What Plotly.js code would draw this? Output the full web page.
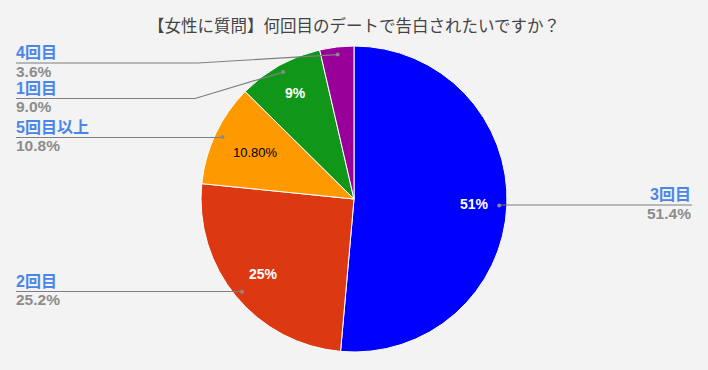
<!DOCTYPE html>
<html>
<head>
<meta charset="utf-8">
<script src="https://cdn.plot.ly/plotly-3.0.1.min.js"></script>
<style>html,body{margin:0;padding:0;background:#f3f3f3;}#chart{width:708px;height:370px;}</style>
</head>
<body>
<div id="chart"></div>
<script>
// ---- data ----
const categories = ['3回目', '2回目', '5回目以上', '1回目', '4回目'];
const values = [51.4, 25.2, 10.8, 9.0, 3.6];
const insideLabels = ['51%', '25%', '10.80%', '9%', ''];
const outsideLabels = ['51.4%', '25.2%', '10.8%', '9.0%', '3.6%'];
const titleText = '【女性に質問】何回目のデートで告白されたいですか？';

// ---- styles / layout ----
const colors = ['#0000ff', '#dc3912', '#ff9900', '#109618', '#990099'];
const insideColors = ['#ffffff', '#ffffff', '#000000', '#ffffff', '#ffffff'];
const insideBold = [true, true, false, true, true];
const insideR = [0.79, 0.77, 0.71, 0.79, 0.78];
const labelSide = ['right', 'left', 'left', 'left', 'left'];
const labelLineY = [205, 291.5, 137.5, 98.5, 63];
const elbowX = [null, null, null, 195, 198];

const W = 708, H = 370;
const CX = 354, CY = 199, R = 153;
const px = x => x / W;
const py = y => 1 - y / H;
const FONT = 'Arial, "Liberation Sans", "Noto Sans CJK JP", sans-serif';

const total = values.reduce((a, b) => a + b, 0);
let cum = 0;
const mids = values.map(v => { const m = (cum + v / 2) / total * 2 * Math.PI; cum += v; return m; });
const pt = (ang, r) => [CX + r * Math.sin(ang), CY - r * Math.cos(ang)];

const annotations = [];
const shapes = [];

categories.forEach((c, i) => {
  // inside label
  if (insideLabels[i]) {
    const [x, y] = pt(mids[i], R * insideR[i]);
    annotations.push({
      x: px(x), y: py(y), xref: 'paper', yref: 'paper', showarrow: false,
      text: insideBold[i] ? '<b>' + insideLabels[i] + '</b>' : insideLabels[i],
      font: {family: FONT, size: insideBold[i] ? 14 : 13, color: insideColors[i]},
      xanchor: 'center', yanchor: 'middle'
    });
  }
  // leader
  const [dx, dy] = pt(mids[i], R * 0.95);
  const ly = labelLineY[i];
  if (labelSide[i] === 'left') {
    const ex = elbowX[i] !== null ? elbowX[i] : dx;
    shapes.push({type: 'line', xref: 'paper', yref: 'paper', x0: px(16), y0: py(ly), x1: px(ex), y1: py(ly), line: {color: '#7f7f7f', width: 1.2}});
    if (elbowX[i] !== null) {
      shapes.push({type: 'line', xref: 'paper', yref: 'paper', x0: px(ex), y0: py(ly), x1: px(dx), y1: py(dy), line: {color: '#7f7f7f', width: 1.2}});
    }
  } else {
    shapes.push({type: 'line', xref: 'paper', yref: 'paper', x0: px(dx), y0: py(ly), x1: px(692), y1: py(ly), line: {color: '#7f7f7f', width: 1.2}});
  }
  shapes.push({type: 'circle', xref: 'paper', yref: 'paper', x0: px(dx - 2), x1: px(dx + 2), y0: py(dy - 2), y1: py(dy + 2), fillcolor: '#8a8a8a', line: {width: 0}});
  // outside text
  const ax = labelSide[i] === 'left' ? px(15) : px(692);
  const anc = labelSide[i] === 'left' ? 'left' : 'right';
  annotations.push({
    x: ax, y: py(ly - 10.5), xref: 'paper', yref: 'paper', showarrow: false,
    text: '<b>' + c + '</b>', font: {family: FONT, size: 16, color: '#4a86e8'},
    xanchor: anc, yanchor: 'middle', borderpad: 0
  });
  annotations.push({
    x: ax, y: py(ly + 8), xref: 'paper', yref: 'paper', showarrow: false,
    text: '<b>' + outsideLabels[i] + '</b>', font: {family: FONT, size: 15.5, color: '#8c8c8c'},
    xanchor: anc, yanchor: 'middle', borderpad: 0
  });
});

const trace = {
  type: 'pie',
  labels: categories,
  values: values,
  sort: false,
  direction: 'clockwise',
  rotation: 0,
  textinfo: 'none',
  hoverinfo: 'none',
  marker: {colors: colors, line: {color: '#ffffff', width: 1}},
  domain: {x: [px(CX - R), px(CX + R)], y: [py(CY + R), py(CY - R)]},
  showlegend: false
};

const layout = {
  width: W, height: H,
  margin: {l: 0, r: 0, t: 0, b: 0},
  paper_bgcolor: '#f3f3f3',
  plot_bgcolor: '#f3f3f3',
  showlegend: false,
  title: {text: titleText, x: 0.5, xanchor: 'center', y: py(26), yanchor: 'middle', font: {family: '"Noto Sans CJK JP", sans-serif', size: 16.5, color: '#444444'}},
  annotations: annotations,
  shapes: shapes
};

Plotly.newPlot('chart', [trace], layout, {staticPlot: true, displayModeBar: false});
</script>
</body>
</html>
